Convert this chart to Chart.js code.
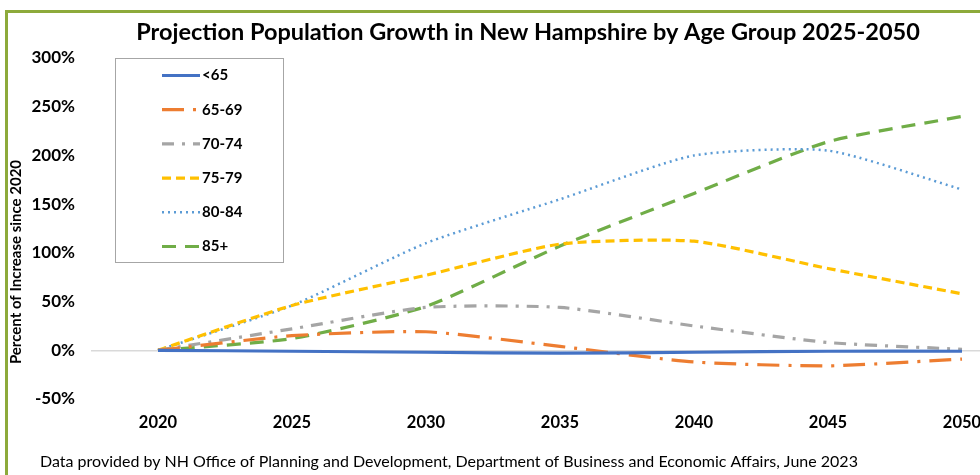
<!DOCTYPE html>
<html>
<head>
<meta charset="utf-8">
<script src="https://cdn.jsdelivr.net/npm/chart.js@4.4.1/dist/chart.umd.min.js"></script>
<style>
  html, body { margin: 0; padding: 0; overflow: hidden; background: #fff; }
  #wrap { position: absolute; left: 0; top: 0; width: 1055px; height: 475px; }
</style>
</head>
<body>
<div id="wrap"><canvas id="popChart"></canvas></div>
<script>
// Werte (Prozent Zuwachs seit 2020)
const years = ['2020', '2025', '2030', '2035', '2040', '2045', '2050'];
const ageGroups = ['<65', '65-69', '70-74', '75-79', '80-84', '85+'];
const under65 = [0, -1, -2, -3, -2, -1, -1];
const age65to69 = [0, 15, 19, 4, -12, -16, -9];
const age70to74 = [0, 22, 44, 44, 25, 8, 1];
const age75to79 = [0, 46, 77, 109, 112, 84, 58];
const age80to84 = [0, 46, 110, 155, 200, 205, 165];
const age85plus = [0, 12, 45, 107, 161, 214, 240];
const yTicks = [-50, 0, 50, 100, 150, 200, 250, 300];

const FONT = 'Lato, "Open Sans", sans-serif';

const styles = [
  { color: '#4472C4', dash: [] },
  { color: '#ED7D31', dash: [22, 9, 3, 9] },
  { color: '#A5A5A5', dash: [12, 8, 3, 8] },
  { color: '#FFC000', dash: [9, 5] },
  { color: '#5B9BD5', dash: [2, 4] },
  { color: '#70AD47', dash: [14, 9] }
];
const seriesData = [under65, age65to69, age70to74, age75to79, age80to84, age85plus];

const datasets = ageGroups.map((name, i) => ({
  label: name,
  data: seriesData[i],
  borderColor: styles[i].color,
  backgroundColor: styles[i].color,
  borderDash: styles[i].dash,
  borderWidth: i === 4 ? 2.5 : 3.2,
  pointRadius: 0,
  tension: 0.2,
  fill: false
}));

// Rahmen, Titel, Achsentitel, Fussnote und Legende selbst zeichnen
const decoPlugin = {
  id: 'deco',
  afterDraw(chart) {
    const ctx = chart.ctx;
    ctx.save();
    // gruener Rahmen
    ctx.strokeStyle = '#8DAA3B';
    ctx.lineWidth = 3;
    ctx.strokeRect(6.5, 11.5, 1043, 520);

    // Titel
    ctx.fillStyle = '#000';
    ctx.font = 'bold 23.5px ' + FONT;
    ctx.textAlign = 'center';
    ctx.textBaseline = 'middle';
    ctx.fillText('Projection Population Growth in New Hampshire by Age Group 2025-2050', 528, 32);

    // Y-Achsentitel
    ctx.save();
    ctx.translate(16, 262);
    ctx.rotate(-Math.PI / 2);
    ctx.font = 'bold 15px ' + FONT;
    ctx.fillText('Percent of Increase since 2020', 0, 0);
    ctx.restore();

    // Fussnote
    ctx.font = '16px ' + FONT;
    ctx.textAlign = 'left';
    ctx.fillText('Data provided by NH Office of Planning and Development, Department of Business and Economic Affairs, June 2023', 40, 462);

    // Legende
    ctx.fillStyle = '#fff';
    ctx.fillRect(115.5, 58.5, 168, 204);
    ctx.strokeStyle = '#A6A6A6';
    ctx.lineWidth = 1;
    ctx.strokeRect(115.5, 58.5, 168, 204);
    chart.data.datasets.forEach((ds, i) => {
      const y = 75.5 + i * 34.2;
      ctx.beginPath();
      ctx.setLineDash(ds.borderDash);
      ctx.strokeStyle = ds.borderColor;
      ctx.lineWidth = ds.borderWidth;
      ctx.moveTo(162, y);
      ctx.lineTo(200, y);
      ctx.stroke();
      ctx.setLineDash([]);
      ctx.fillStyle = '#000';
      ctx.font = 'bold 15px ' + FONT;
      ctx.textBaseline = 'middle';
      ctx.fillText(ds.label, 202, y);
    });
    ctx.restore();
  }
};

const ctx = document.getElementById('popChart').getContext('2d');
const popChart = new Chart(ctx, {
  type: 'line',
  data: { labels: years, datasets: datasets },
  options: {
    responsive: true,
    maintainAspectRatio: false,
    animation: false,
    layout: { padding: { top: 58, left: 0, right: 26, bottom: 36 } },
    plugins: {
      legend: { display: false },
      title: { display: false },
      tooltip: { enabled: false }
    },
    scales: {
      x: {
        offset: true,
        grid: { display: false, drawTicks: false },
        border: { display: false },
        ticks: {
          padding: 14,
          color: '#000',
          font: { family: FONT, size: 16.5, weight: 'bold' }
        },
        afterFit(scale) { scale.height = 40; }
      },
      y: {
        min: -50,
        max: 300,
        afterBuildTicks(scale) { scale.ticks = yTicks.map(v => ({ value: v })); },
        grid: {
          drawTicks: false,
          color: c => (c.tick && c.tick.value === 0) ? '#D9D9D9' : 'rgba(0,0,0,0)',
          lineWidth: 1.5
        },
        border: { display: false },
        ticks: {
          padding: 16,
          color: '#000',
          font: { family: FONT, size: 17, weight: 'bold' },
          callback: v => v + '%'
        },
        afterFit(scale) { scale.width = 91; }
      }
    }
  },
  plugins: [decoPlugin]
});
</script>
</body>
</html>
